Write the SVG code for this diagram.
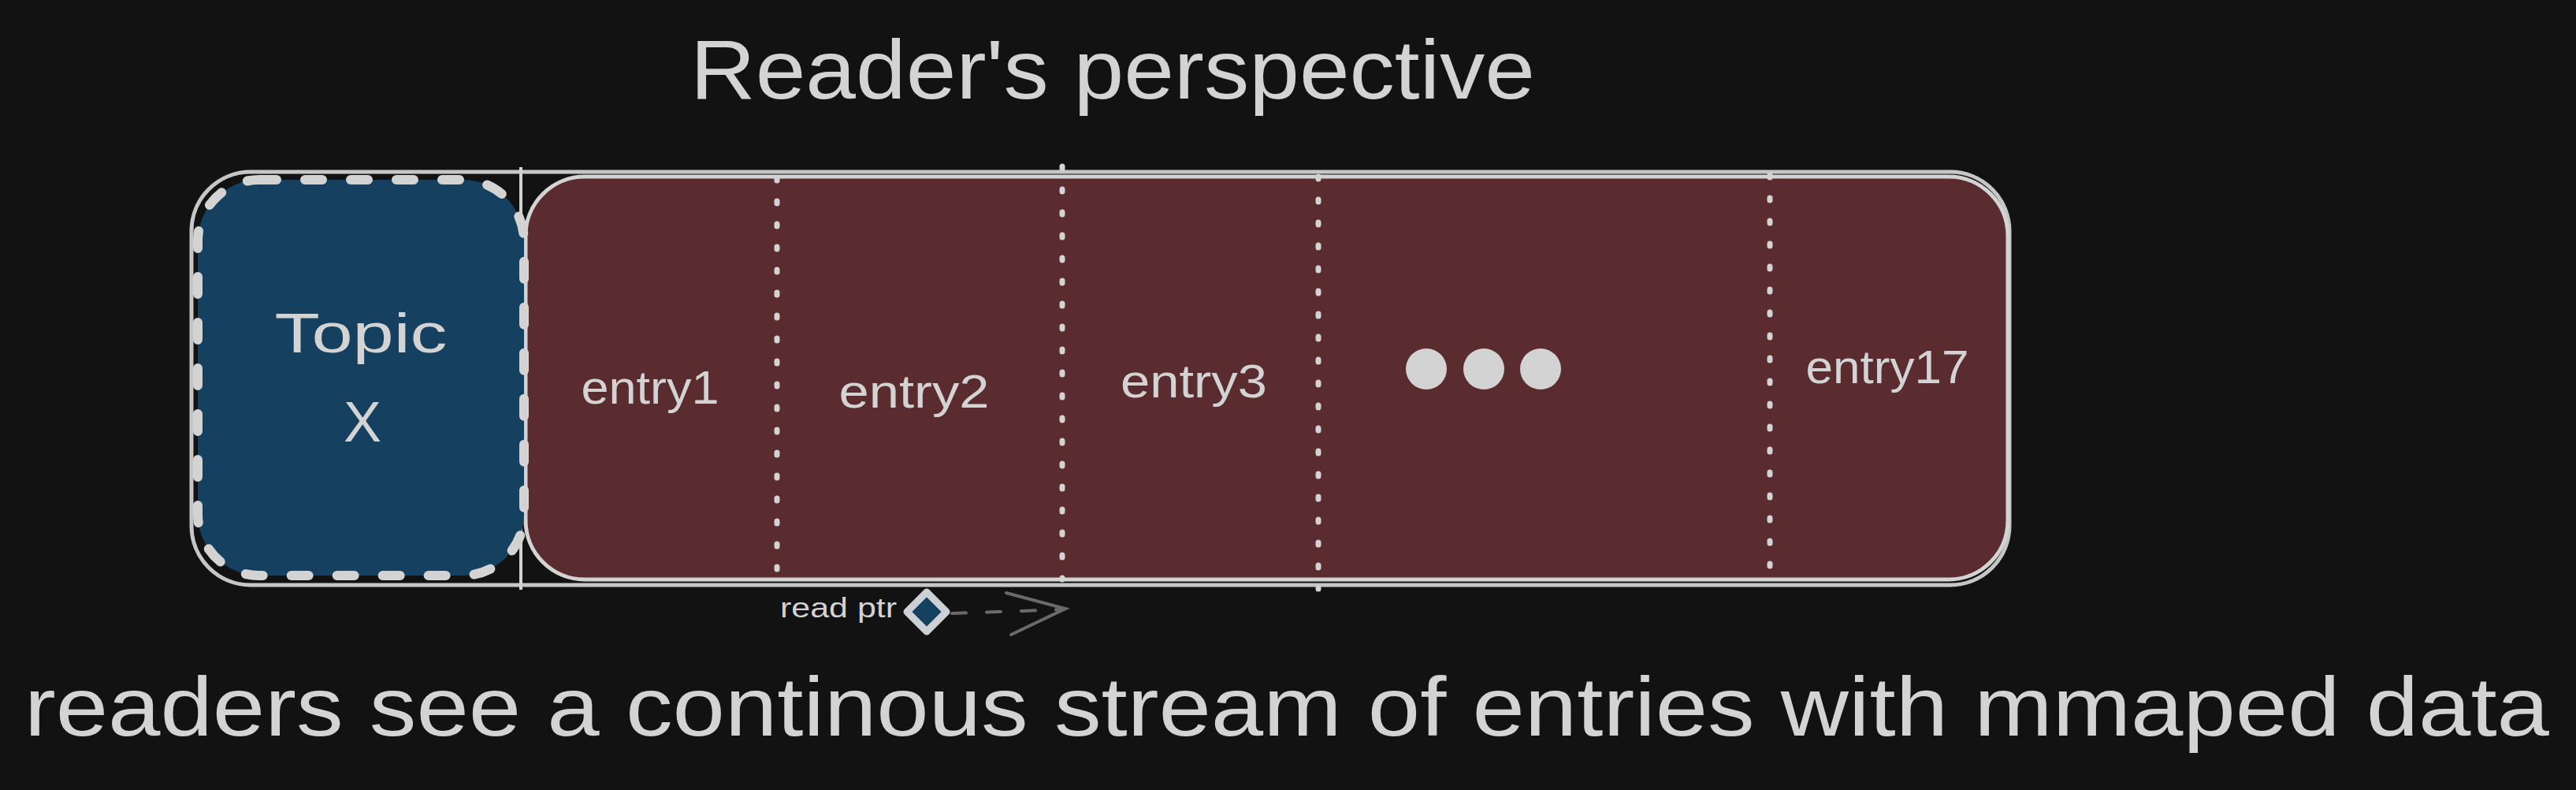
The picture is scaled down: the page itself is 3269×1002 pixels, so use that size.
<svg xmlns="http://www.w3.org/2000/svg" width="3269" height="1002" viewBox="0 0 3269 1002">
<style>
.t{font-family:"Liberation Sans","DejaVu Sans",sans-serif;fill:#d3d3d3;text-anchor:middle}
.div{stroke:#d3d3d3;stroke-width:7;stroke-linecap:round;stroke-dasharray:3 26;fill:none}
</style>
<rect x="0" y="0" width="3269" height="1002" fill="#121212"/>
<g id="title"><text class="t" x="1412" y="125" font-size="106" textLength="1072" lengthAdjust="spacingAndGlyphs">Reader's perspective</text></g>
<g id="outer"><rect x="243" y="218" width="2307" height="524" rx="75" ry="75" fill="none" stroke="#c6c6c6" stroke-width="5"/>
<line x1="661" y1="212" x2="661" y2="748" stroke="#d3d3d3" stroke-width="4"/></g>
<g id="stream"><rect x="667" y="224" width="1881" height="511" rx="75" ry="75" fill="#5a2c2f" stroke="#d3d3d3" stroke-width="5"/>
<line class="div" x1="986" y1="226" x2="986" y2="722"/>
<line class="div" x1="1348" y1="211" x2="1348" y2="735"/>
<line class="div" x1="1673" y1="224" x2="1673" y2="747"/>
<line class="div" x1="2246" y1="222" x2="2246" y2="744"/></g>
<g id="topic"><rect x="251" y="228" width="414" height="502" rx="78" ry="78" fill="#164060" stroke="#d3d3d3" stroke-width="12" stroke-linecap="round" stroke-dasharray="22 36"/>
<text class="t" x="458" y="447" font-size="70" textLength="219" lengthAdjust="spacingAndGlyphs">Topic</text>
<text class="t" x="460" y="560" font-size="72">X</text></g>
<g id="entry1"><text class="t" x="825" y="512" font-size="60" textLength="175" lengthAdjust="spacingAndGlyphs">entry1</text></g>
<g id="entry2"><text class="t" x="1160" y="517" font-size="60" textLength="191" lengthAdjust="spacingAndGlyphs">entry2</text></g>
<g id="entry3"><text class="t" x="1515" y="504" font-size="60" textLength="186" lengthAdjust="spacingAndGlyphs">entry3</text></g>
<g id="ellipsis" fill="#d3d3d3"><circle cx="1810" cy="468" r="26"/><circle cx="1883" cy="468" r="26"/><circle cx="1955" cy="468" r="26"/></g>
<g id="entry17"><text class="t" x="2395" y="486" font-size="60" textLength="207" lengthAdjust="spacingAndGlyphs">entry17</text></g>
<g id="readptr"><text class="t" x="1064" y="783" font-size="35" textLength="148" lengthAdjust="spacingAndGlyphs">read ptr</text>
<path d="M1176 751 L1201 776 L1176 801 L1151 776 Z" fill="#164060" stroke="#ccd0d4" stroke-width="9" stroke-linejoin="round"/></g>
<g id="connectors" stroke="#6a6a6a" stroke-width="4" stroke-linecap="round" fill="none">
<path d="M1208 778 L1350 773" stroke-dasharray="18 26"/>
<path d="M1277 752 L1352 772 L1283 805"/></g>
<g id="caption"><text class="t" x="1633" y="933" font-size="106" textLength="3204" lengthAdjust="spacingAndGlyphs">readers see a continous stream of entries with mmaped data</text></g>
</svg>
